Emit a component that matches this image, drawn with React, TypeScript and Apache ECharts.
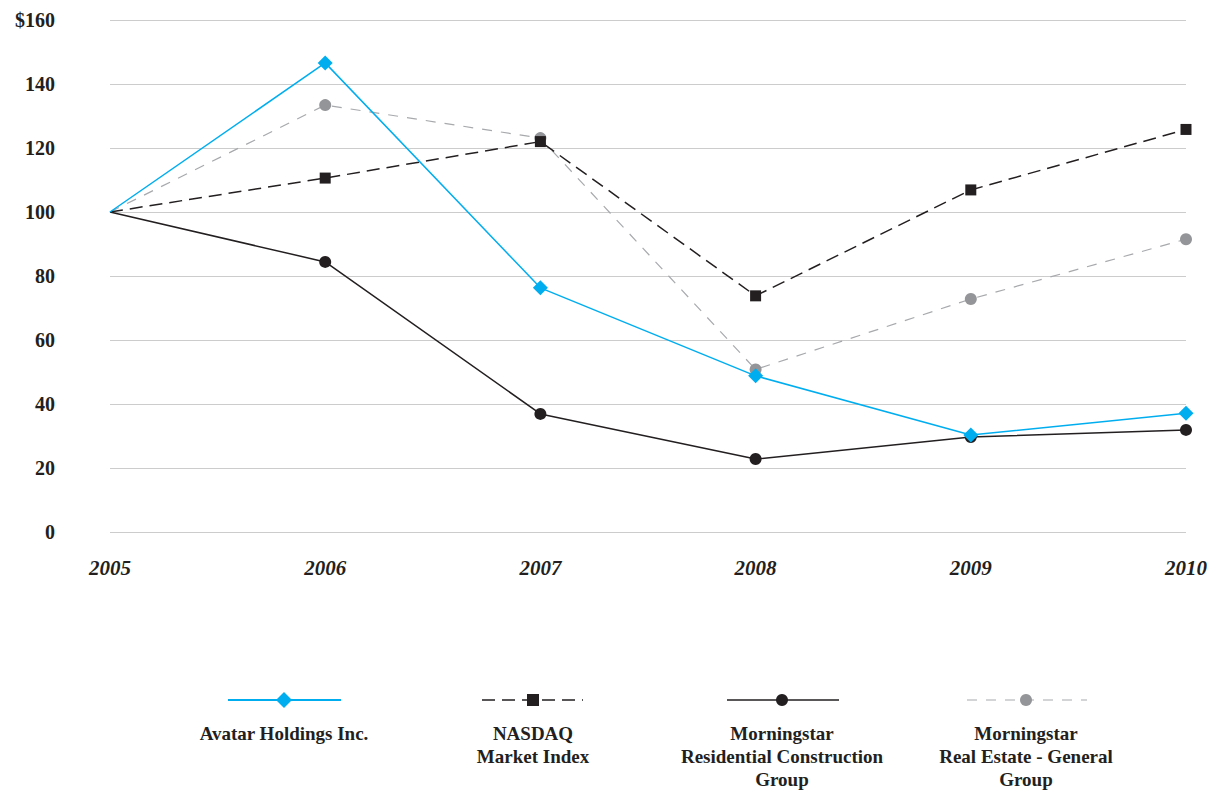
import React, { useEffect, useRef } from "react";
import * as echarts from "echarts";

const years = ["2005", "2006", "2007", "2008", "2009", "2010"];
const avatar = [100, 146.6, 76.3, 48.8, 30.3, 37.1];
const nasdaq = [100, 110.6, 122, 73.8, 106.9, 125.8];
const residential = [100, 84.4, 36.9, 22.8, 29.7, 31.9];
const realEstate = [100, 133.4, 123.1, 50.8, 72.8, 91.5];
const yTicks = [0, 20, 40, 60, 80, 100, 120, 140, 160];

const seriesNames = [
  "Avatar Holdings Inc.",
  "NASDAQ\nMarket Index",
  "Morningstar\nResidential Construction\nGroup",
  "Morningstar\nReal Estate - General\nGroup",
];

const BLUE = "#00aeef";
const DARK = "#231f20";
const GRAY = "#939598";
const FONT = "'Liberation Serif', serif";

// hide the marker at the common 2005 starting point
const withoutFirstSymbol = (arr: number[]) =>
  arr.map((v, i) => (i === 0 ? { value: v, symbol: "none" } : v));

export default function App() {
  const ref = useRef<HTMLDivElement>(null);
  useEffect(() => {
    document.body.style.margin = "0";
    const chart = echarts.init(ref.current!, null, { renderer: "svg" });
    const legendY = 700;
    const legendItems = [
      { cx: 284, x1: 228, x2: 341, color: BLUE, dash: null as any, width: 2, marker: "diamond" },
      { cx: 533, x1: 482, x2: 583, color: DARK, dash: [13, 7], width: 1.5, marker: "square" },
      { cx: 782, x1: 727, x2: 839, color: DARK, dash: null, width: 1.5, marker: "circle" },
      { cx: 1026, x1: 967, x2: 1087, color: "#a7a9ac", dash: [10, 9], width: 1.2, marker: "grayCircle" },
    ];
    const graphics: any[] = [];
    legendItems.forEach((it, i) => {
      graphics.push({
        type: "line",
        shape: { x1: it.x1, y1: legendY, x2: it.x2, y2: legendY },
        style: { stroke: it.color, lineWidth: it.width, lineDash: it.dash || undefined },
      });
      if (it.marker === "diamond") {
        graphics.push({
          type: "polygon",
          shape: { points: [[it.cx, legendY - 8], [it.cx + 8, legendY], [it.cx, legendY + 8], [it.cx - 8, legendY]] },
          style: { fill: BLUE },
        });
      } else if (it.marker === "square") {
        graphics.push({ type: "rect", shape: { x: it.cx - 6, y: legendY - 6, width: 12, height: 12 }, style: { fill: DARK } });
      } else if (it.marker === "circle") {
        graphics.push({ type: "circle", shape: { cx: it.cx, cy: legendY, r: 6 }, style: { fill: DARK } });
      } else {
        graphics.push({ type: "circle", shape: { cx: it.cx, cy: legendY, r: 6 }, style: { fill: GRAY } });
      }
      graphics.push({
        type: "text",
        x: it.cx,
        y: 722,
        style: {
          text: seriesNames[i],
          fill: DARK,
          font: `bold 19px ${FONT}`,
          textAlign: "center",
          textVerticalAlign: "top",
          lineHeight: 23,
        },
      });
    });

    chart.setOption({
      animation: false,
      grid: { left: 110, right: 23, top: 20, bottom: 790 - 532, containLabel: false },
      xAxis: {
        type: "category",
        data: years,
        boundaryGap: false,
        axisLine: { show: false },
        axisTick: { show: false },
        axisLabel: {
          margin: 25,
          color: DARK,
          fontFamily: FONT,
          fontStyle: "italic",
          fontWeight: "bold",
          fontSize: 21,
        },
      },
      yAxis: {
        type: "value",
        min: 0,
        max: 160,
        interval: 20,
        axisLine: { show: false },
        axisTick: { show: false },
        splitLine: { lineStyle: { color: "#cccccc", width: 1 } },
        axisLabel: {
          margin: 55,
          color: DARK,
          fontFamily: FONT,
          fontWeight: "bold",
          fontSize: 20,
          formatter: (v: number) => (v === yTicks[yTicks.length - 1] ? "$" + v : String(v)),
        },
      },
      series: [
        {
          name: seriesNames[3],
          type: "line",
          data: withoutFirstSymbol(realEstate),
          symbol: "circle",
          symbolSize: 12,
          showSymbol: true,
          lineStyle: { color: "#a7a9ac", width: 1.2, type: [10, 9] },
          itemStyle: { color: GRAY },
          z: 2,
        },
        {
          name: seriesNames[1],
          type: "line",
          data: withoutFirstSymbol(nasdaq),
          symbol: "rect",
          symbolSize: 11,
          lineStyle: { color: DARK, width: 1.5, type: [13, 7] },
          itemStyle: { color: DARK },
          z: 3,
        },
        {
          name: seriesNames[2],
          type: "line",
          data: withoutFirstSymbol(residential),
          symbol: "circle",
          symbolSize: 12,
          lineStyle: { color: DARK, width: 1.5 },
          itemStyle: { color: DARK },
          z: 4,
        },
        {
          name: seriesNames[0],
          type: "line",
          data: withoutFirstSymbol(avatar),
          symbol: "diamond",
          symbolSize: 15,
          lineStyle: { color: BLUE, width: 1.5 },
          itemStyle: { color: BLUE },
          z: 5,
        },
      ],
      graphic: graphics,
    });
    return () => chart.dispose();
  }, []);
  return <div ref={ref} style={{ width: 1210, height: 790 }} />;
}
